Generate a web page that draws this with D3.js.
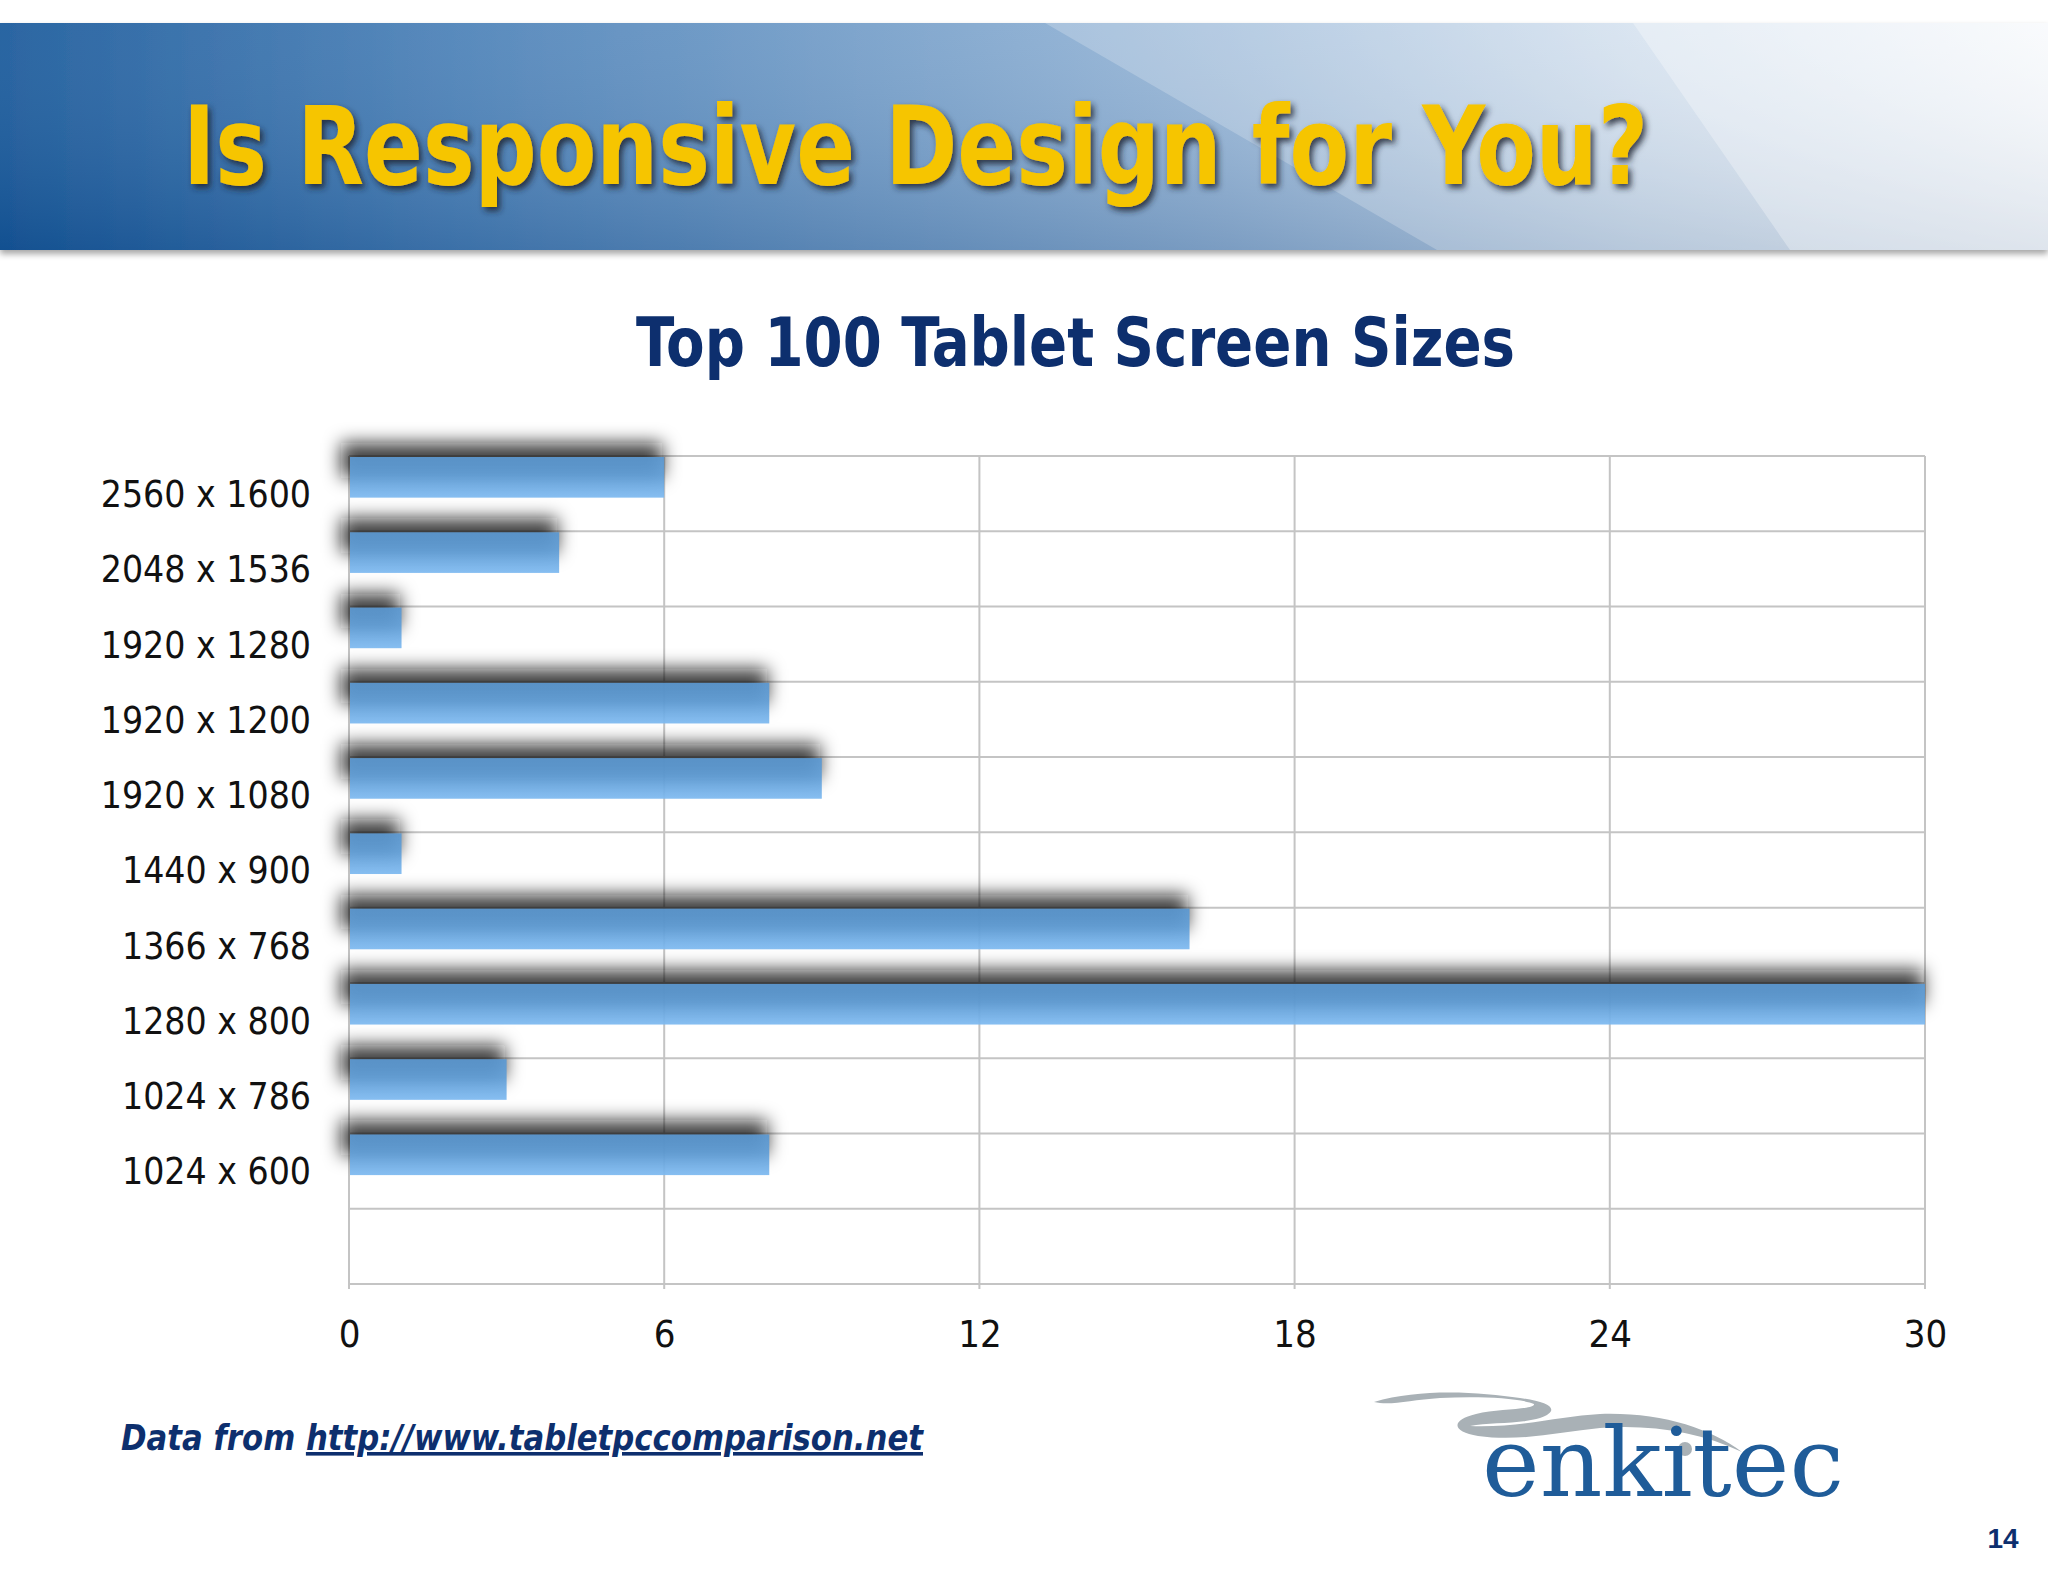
<!DOCTYPE html>
<html>
<head>
<meta charset="utf-8">
<script src="https://cdn.jsdelivr.net/npm/d3@7"></script>
<style>
  html, body { margin: 0; padding: 0; background: #fff; }
  svg { display: block; }
</style>
</head>
<body>
<div id="chart"></div>
<script>
// chart data, top row first
const categories = ['2560 x 1600', '2048 x 1536', '1920 x 1280', '1920 x 1200', '1920 x 1080',
                    '1440 x 900', '1366 x 768', '1280 x 800', '1024 x 786', '1024 x 600'];
const counts = [6, 4, 1, 8, 9, 1, 16, 30, 3, 8];
const xTicks = [0, 6, 12, 18, 24, 30];
const rowCount = 11; // 10 categories plus one empty band at the bottom

const W = 2048, H = 1582;
const plot = { left: 349, right: 1925, top: 456, bottom: 1284 };
const NAVY = '#0d2f6e';
const FONT = '"DejaVu Sans Condensed", "DejaVu Sans", sans-serif';

const svg = d3.select('#chart').append('svg')
  .attr('width', W).attr('height', H)
  .attr('viewBox', `0 0 ${W} ${H}`);

const defs = svg.append('defs');

// header band gradient
const band = defs.append('linearGradient').attr('id', 'band').attr('x1', 0).attr('x2', 1).attr('y1', 0).attr('y2', 0);
[[0, '#18589a'], [0.22, '#4a80b7'], [0.45, '#7aa2cb'], [0.6, '#9ab8d8'], [0.8, '#cddcec'], [1, '#f4f7fb']]
  .forEach(([o, c]) => band.append('stop').attr('offset', o).attr('stop-color', c));
const bandShade = defs.append('linearGradient').attr('id', 'bandShade').attr('x1', 0).attr('x2', 0).attr('y1', 0).attr('y2', 1);
bandShade.append('stop').attr('offset', 0).attr('stop-color', '#ffffff').attr('stop-opacity', 0.08);
bandShade.append('stop').attr('offset', 1).attr('stop-color', '#00306a').attr('stop-opacity', 0.2);

const barGrad = defs.append('linearGradient').attr('id', 'barGrad').attr('x1', 0).attr('x2', 0).attr('y1', 0).attr('y2', 1);
barGrad.append('stop').attr('offset', 0).attr('stop-color', '#5b98d1');
barGrad.append('stop').attr('offset', 0.45).attr('stop-color', '#5f9dd6');
barGrad.append('stop').attr('offset', 1).attr('stop-color', '#7db9f0');

defs.append('filter').attr('id', 'blur').attr('x', '-20%').attr('y', '-150%').attr('width', '140%').attr('height', '400%')
  .append('feGaussianBlur').attr('stdDeviation', 9);

const tshadow = defs.append('filter').attr('id', 'tshadow').attr('x', '-5%').attr('y', '-20%').attr('width', '110%').attr('height', '150%');
tshadow.append('feDropShadow').attr('dx', 3).attr('dy', 4).attr('stdDeviation', 3)
  .attr('flood-color', '#1a2633').attr('flood-opacity', 0.85);

const bandShadow = defs.append('filter').attr('id', 'bandShadow').attr('x', 0).attr('y', '-10%').attr('width', '100%').attr('height', '130%');
bandShadow.append('feDropShadow').attr('dx', 0).attr('dy', 4).attr('stdDeviation', 3)
  .attr('flood-color', '#000').attr('flood-opacity', 0.35);

// ---- header
const head = svg.append('g');
head.append('rect').attr('x', 0).attr('y', 23).attr('width', W).attr('height', 227)
  .attr('fill', 'url(#band)').attr('filter', 'url(#bandShadow)');
head.append('rect').attr('x', 0).attr('y', 23).attr('width', W).attr('height', 227).attr('fill', 'url(#bandShade)');
head.append('path').attr('d', 'M1045,23 L2048,23 L2048,250 L1437,250 Z').attr('fill', '#fff').attr('opacity', 0.22);
head.append('path').attr('d', 'M1633,23 L2048,23 L2048,250 L1790,250 Z').attr('fill', '#fff').attr('opacity', 0.3);

head.append('text')
  .attr('x', 183).attr('y', 184)
  .attr('font-family', FONT).attr('font-weight', 'bold').attr('font-size', 108)
  .attr('fill', '#f6c500').attr('filter', 'url(#tshadow)')
  .attr('textLength', 1465).attr('lengthAdjust', 'spacingAndGlyphs')
  .text('Is Responsive Design for You?');

// ---- chart title
svg.append('text')
  .attr('x', 636).attr('y', 366)
  .attr('font-family', FONT).attr('font-weight', 'bold').attr('font-size', 67)
  .attr('fill', NAVY)
  .attr('textLength', 879).attr('lengthAdjust', 'spacingAndGlyphs')
  .text('Top 100 Tablet Screen Sizes');

// ---- scales
const x = d3.scaleLinear().domain([0, 30]).range([plot.left, plot.right]);
const y = d3.scaleLinear().domain([0, rowCount]).range([plot.top, plot.bottom]);
const bandH = y(1) - y(0);
const barH = bandH * 0.54;

// grid
const grid = svg.append('g').attr('stroke', '#c4c4c4').attr('stroke-width', 2);
grid.selectAll('line.h').data(d3.range(rowCount + 1)).join('line')
  .attr('x1', x(0)).attr('x2', x(30))
  .attr('y1', d => y(d)).attr('y2', d => y(d));
grid.selectAll('line.v').data(xTicks).join('line')
  .attr('x1', d => x(d)).attr('x2', d => x(d))
  .attr('y1', y(0)).attr('y2', y(rowCount) + 5);

// bar shadows
svg.append('g').attr('filter', 'url(#blur)')
  .selectAll('rect').data(counts).join('rect')
  .attr('x', x(0) - 8)
  .attr('y', (d, i) => y(i) - 13)
  .attr('width', d => x(d) - x(0) + 6)
  .attr('height', barH * 0.85)
  .attr('fill', '#111').attr('opacity', 0.8);

// bars
svg.append('g')
  .selectAll('rect').data(counts).join('rect')
  .attr('x', x(0) + 1)
  .attr('y', (d, i) => y(i) + 1)
  .attr('width', d => x(d) - x(0) - 1)
  .attr('height', barH)
  .attr('fill', 'url(#barGrad)').attr('opacity', 0.93);

// category labels
svg.append('g')
  .selectAll('text').data(categories).join('text')
  .attr('x', 311)
  .attr('y', (d, i) => y(i + 0.5))
  .attr('dy', '0.36em')
  .attr('text-anchor', 'end')
  .attr('font-family', FONT).attr('font-size', 37).attr('fill', '#111')
  .text(d => d);

// value axis labels
const xAxis = svg.append('g').attr('transform', `translate(0,${plot.bottom + 49})`)
  .call(d3.axisBottom(x).tickValues(xTicks).tickSize(0).tickPadding(0));
xAxis.select('.domain').remove();
xAxis.selectAll('text')
  .attr('font-family', FONT).attr('font-size', 38).attr('fill', '#111').attr('dy', '0.36em');

// ---- footer
const foot = svg.append('text')
  .attr('x', 121).attr('y', 1450)
  .attr('font-family', FONT).attr('font-weight', 'bold').attr('font-style', 'italic')
  .attr('font-size', 36).attr('fill', NAVY)
  .attr('textLength', 802).attr('lengthAdjust', 'spacingAndGlyphs');
foot.append('tspan').text('Data from ');
foot.append('tspan').attr('text-decoration', 'underline').text('http://www.tabletpccomparison.net');

// logo
const logo = svg.append('g');
logo.append('path')
  .attr('d', 'M1374,1402 C1420,1388 1480,1392 1520,1398 C1550,1402 1562,1410 1540,1418 ' +
             'C1520,1424 1490,1422 1470,1426 C1520,1428 1560,1416 1600,1414 C1660,1412 1710,1428 1742,1452 ' +
             'C1700,1432 1650,1424 1600,1428 C1560,1432 1520,1442 1478,1436 C1452,1432 1450,1420 1476,1414 ' +
             'C1500,1408 1535,1410 1534,1404 C1520,1398 1480,1396 1440,1398 C1410,1400 1390,1406 1374,1402 Z')
  .attr('fill', '#a9b1b6');
logo.append('circle').attr('cx', 1685).attr('cy', 1449).attr('r', 7).attr('fill', '#a9b1b6');
logo.append('text')
  .attr('x', 1482).attr('y', 1496)
  .attr('font-family', '"DejaVu Serif", serif').attr('font-size', 96)
  .attr('fill', '#1f5c99')
  .attr('textLength', 362).attr('lengthAdjust', 'spacingAndGlyphs')
  .text('enkitec');

svg.append('text')
  .attr('x', 2003).attr('y', 1548).attr('text-anchor', 'middle')
  .attr('font-family', '"Liberation Sans", Arial, sans-serif').attr('font-weight', 'bold')
  .attr('font-size', 28).attr('fill', NAVY)
  .text('14');
</script>
</body>
</html>
